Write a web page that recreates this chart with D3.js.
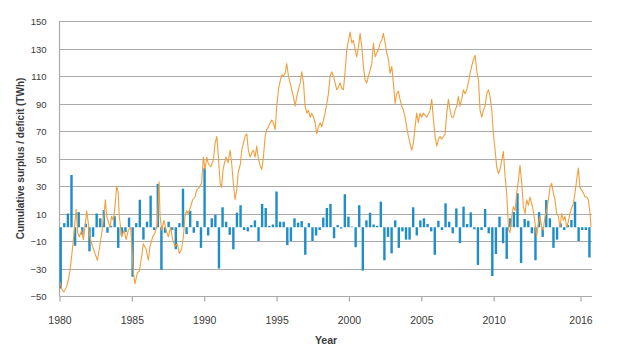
<!DOCTYPE html>
<html>
<head>
<meta charset="utf-8">
<script src="https://cdn.jsdelivr.net/npm/d3@7/dist/d3.min.js"></script>
<style>
  body { margin: 0; background: #fff; }
  svg text { font-family: "Liberation Sans", Arial, sans-serif; fill: #3a3a3a; }
</style>
</head>
<body>
<svg id="chart" width="618" height="362"></svg>
<script>
// quarterly surplus / deficit (TWh), 1980 Q1 onwards
var barValues = [
  -44.5, 3, 10, 38, -13.5, 11, -5.5, 2.5, -17.5, -7,
  10, 6.5, 12.5, -4, 1, 8, -15, -6, -3.5, 7,
  -36, 3, 20, -9, 4, 23, -2, 31.5, -31, -4,
  4, -2, -16, 3, 28, -5, 12, -4, 4.5, -15,
  43, -6, 6.5, 9, -30, 14.5, 4, -5.5, -16, 10.6,
  16, -2, -3, 1.6, 5, -10, 17, 14, 1, 2,
  26, 4, 4, -13, -10, 6.5, 3.3, 4.5, -20, 3,
  -10, -6, -2, 7, 14, 17, -8, 1.6, -1, 24,
  7.7, 0.5, -14.5, 16, -31.5, 5, 10.6, 2, 1, 18.6,
  -24, -7, -19, 5, -15, -3, -9, -9, 14.5, -6,
  5, 6.5, 2.4, -3, -20, 4.7, -2, 17.4, 4, -4.4,
  13.7, -11.6, 15, 2.4, 10.8, -1.5, -27.4, -2, 13.3, -4.4,
  -35.5, -19.5, 7.7, -11.6, -23, 6.5, 11, 24.7, -26, 6,
  4.7, -4.4, -24, 11, -7, 19.8, 6.5, -15, -9, 2.8,
  -2, 1.6, 5.3, 18.6, -10, -2, -2, -22
];

// cumulative surplus / deficit (TWh)
var lineYears = [
  1980.05, 1980.15, 1980.31, 1980.50, 1980.62, 1980.73, 1980.84, 1980.96, 1981.07, 1981.15,
  1981.26, 1981.37, 1981.53, 1981.65, 1981.76, 1981.88, 1981.99, 1982.11, 1982.29, 1982.45,
  1982.62, 1982.75, 1982.92, 1983.07, 1983.17, 1983.26, 1983.49, 1983.60, 1983.72, 1983.83,
  1983.95, 1984.06, 1984.13, 1984.30, 1984.46, 1984.60, 1984.76, 1984.92, 1985.10, 1985.22,
  1985.38, 1985.52, 1985.68, 1985.79, 1985.98, 1986.14, 1986.25, 1986.44, 1986.60, 1986.76,
  1986.88, 1986.95, 1987.06, 1987.22, 1987.36, 1987.52, 1987.68, 1987.82, 1987.98, 1988.14,
  1988.28, 1988.44, 1988.56, 1988.67, 1988.79, 1988.90, 1989.06, 1989.20, 1989.36, 1989.48,
  1989.66, 1989.82, 1989.94, 1990.06, 1990.18, 1990.29, 1990.45, 1990.64, 1990.75, 1990.87,
  1990.98, 1991.10, 1991.20, 1991.30, 1991.50, 1991.65, 1991.79, 1991.90, 1992.01, 1992.13,
  1992.25, 1992.35, 1992.50, 1992.59, 1992.71, 1992.82, 1992.94, 1993.05, 1993.17, 1993.28,
  1993.40, 1993.51, 1993.63, 1993.74, 1993.86, 1993.98, 1994.09, 1994.21, 1994.32, 1994.44,
  1994.55, 1994.67, 1994.78, 1994.90, 1995.01, 1995.13, 1995.24, 1995.36, 1995.47, 1995.59,
  1995.70, 1995.82, 1995.93, 1996.05, 1996.16, 1996.28, 1996.39, 1996.51, 1996.63, 1996.74,
  1996.86, 1996.97, 1997.09, 1997.20, 1997.32, 1997.43, 1997.55, 1997.66, 1997.78, 1997.89,
  1998.01, 1998.12, 1998.24, 1998.35, 1998.47, 1998.58, 1998.70, 1998.81, 1998.93, 1999.04,
  1999.16, 1999.27, 1999.39, 1999.50, 1999.62, 1999.74, 1999.85, 1999.97, 2000.08, 2000.20,
  2000.31, 2000.43, 2000.54, 2000.66, 2000.77, 2000.89, 2001.00, 2001.12, 2001.23, 2001.35,
  2001.46, 2001.58, 2001.69, 2001.81, 2001.92, 2002.04, 2002.15, 2002.27, 2002.38, 2002.50,
  2002.61, 2002.73, 2002.84, 2002.96, 2003.07, 2003.19, 2003.30, 2003.42, 2003.53, 2003.65,
  2003.76, 2003.88, 2003.99, 2004.11, 2004.22, 2004.34, 2004.45, 2004.57, 2004.68, 2004.80,
  2004.91, 2005.03, 2005.14, 2005.38, 2005.61, 2005.72, 2005.84, 2005.95, 2006.07, 2006.18,
  2006.30, 2006.41, 2006.53, 2006.64, 2006.76, 2006.87, 2006.99, 2007.10, 2007.22, 2007.33,
  2007.45, 2007.56, 2007.68, 2007.79, 2007.91, 2008.02, 2008.14, 2008.25, 2008.37, 2008.48,
  2008.60, 2008.72, 2008.83, 2008.95, 2009.06, 2009.18, 2009.29, 2009.41, 2009.52, 2009.64,
  2009.75, 2009.87, 2009.98, 2010.10, 2010.21, 2010.33, 2010.44, 2010.56, 2010.67, 2010.79,
  2010.90, 2010.97, 2011.04, 2011.13, 2011.25, 2011.36, 2011.48, 2011.59, 2011.71, 2011.82,
  2011.94, 2012.05, 2012.17, 2012.28, 2012.40, 2012.51, 2012.63, 2012.74, 2012.86, 2012.97,
  2013.09, 2013.20, 2013.32, 2013.43, 2013.55, 2013.66, 2013.78, 2013.89, 2014.01, 2014.12,
  2014.24, 2014.35, 2014.47, 2014.58, 2014.70, 2014.81, 2014.93, 2015.04, 2015.16, 2015.27,
  2015.39, 2015.50, 2015.62, 2015.73, 2015.85, 2015.96, 2016.08, 2016.20, 2016.31, 2016.43,
  2016.54, 2016.66, 2016.73
];
var lineValues = [
  -40, -45, -47, -43, -38, -31, -21, -9, 4, 13,
  -4, -7, -2, -9, 0, 12, 3, -8, -14, -19,
  -24, -16, -4, 8, 20, 8, 0, 8, 5, 15,
  30, 25, 8, -7, -2, -9, -2, 0, -33, -41,
  -33, -32, -21, -12, -16, -24, -14, -7, -4, 2,
  33, 8, -2, 5, -2, -7, 0, -9, -14, -12,
  -19, -16, -7, 8, 12, 10, 15, 20, 22, 27,
  29, 32, 51, 42, 51, 46, 44, 49, 61, 66,
  51, 32, 29, 42, 51, 47, 56, 46, 32, 20,
  27, 40, 46, 56, 61, 66, 68, 56, 51, 54,
  56, 51, 59, 50, 45, 42, 51, 66, 71, 73,
  76, 78, 76, 71, 88, 100, 106, 111, 110, 112,
  119, 110, 105, 100, 95, 88, 95, 100, 105, 113,
  105, 88, 83, 85, 80, 83, 80, 76, 68, 73,
  76, 73, 78, 83, 90, 97, 110, 113, 110, 105,
  100, 102, 105, 101, 100, 114, 129, 136, 142, 134,
  136, 129, 124, 131, 141, 131, 117, 107, 105, 110,
  114, 119, 134, 124, 127, 129, 134, 136, 141, 134,
  127, 122, 112, 117, 105, 90, 97, 99, 93, 88,
  85, 80, 73, 66, 61, 56, 61, 73, 83, 76,
  83, 80, 83, 80, 85, 93, 78, 66, 59, 64,
  66, 64, 66, 68, 83, 93, 85, 80, 80, 85,
  88, 95, 88, 93, 100, 97, 100, 105, 112, 117,
  122, 125, 114, 107, 85, 80, 85, 88, 97, 100,
  95, 85, 68, 56, 44, 39, 42, 49, 55, 37,
  25, 10, -2, -4, 8, 15, 12, 25, 34, 45,
  32, 15, 10, 20, 16, 22, 17, 12, 3, -7,
  3, 8, 0, -2, 8, 12, 20, 29, 32, 25,
  20, 10, 8, 0, 10, 5, 8, 0, 4, 10,
  14, 17, 25, 34, 43, 29, 27, 25, 22, 22,
  20, 10, 0
];

var xTicks = [1980, 1985, 1990, 1995, 2000, 2005, 2010, 2016];
var yTicks = [-50, -30, -10, 10, 30, 50, 70, 90, 110, 130, 150];

var gridColor = "#aaaaaa";
var barColor = "#1f8dc8";
var lineColor = "#f19f3e";

var svg = d3.select("#chart");

var x = d3.scaleLinear().domain([1980, 2016]).range([59.5, 580.5]);
var y = d3.scaleLinear().domain([-50, 150]).range([296, 21]);
var xEnd = x(2016.8);

// one band per quarter
var barKeys = barValues.map(function(d, i){ return 1980 + i / 4; });
var xb = d3.scaleBand()
  .domain(barKeys)
  .range([x(1980), x(2016.7)])
  .paddingInner(0.33);

// gridlines (the -50 one doubles as the x axis)
svg.append("g")
  .selectAll("line")
  .data(yTicks)
  .join("line")
    .attr("x1", x(1980))
    .attr("x2", xEnd)
    .attr("y1", function(d){ return Math.round(y(d)) + 0.5; })
    .attr("y2", function(d){ return Math.round(y(d)) + 0.5; })
    .attr("stroke", gridColor)
    .attr("stroke-width", 1.2);

svg.append("line")
  .attr("x1", x(1980))
  .attr("x2", x(1980))
  .attr("y1", y(150))
  .attr("y2", y(-50) + 0.5)
  .attr("stroke", gridColor)
  .attr("stroke-width", 1.2);

// y axis labels
var yAxis = d3.axisLeft(y)
  .tickValues(yTicks)
  .tickSize(0)
  .tickPadding(13);
var gy = svg.append("g")
  .attr("transform", "translate(" + x(1980) + ",0.5)")
  .call(yAxis);
gy.select(".domain").remove();
gy.selectAll("text")
  .style("font-size", "9.5px")
  .attr("fill", "#3a3a3a");

// x axis
var xAxis = d3.axisBottom(x)
  .tickValues(xTicks)
  .tickSize(5)
  .tickPadding(15)
  .tickFormat(d3.format("d"));
var gx = svg.append("g")
  .attr("transform", "translate(0," + (Math.round(y(-50)) + 0.5) + ")")
  .call(xAxis);
gx.select(".domain").remove();
gx.selectAll("line")
  .attr("stroke", gridColor)
  .attr("stroke-width", 1.2);
gx.selectAll("text")
  .style("font-size", "10.5px")
  .attr("fill", "#3a3a3a");

// quarterly bars
svg.append("g")
  .selectAll("rect")
  .data(barValues)
  .join("rect")
    .attr("x", function(d, i){ return xb(barKeys[i]); })
    .attr("width", xb.bandwidth())
    .attr("y", function(d){ return y(Math.max(0, d)); })
    .attr("height", function(d){ return Math.abs(y(d) - y(0)); })
    .attr("fill", barColor);

// cumulative line
var line = d3.line()
  .x(function(d){ return x(d); })
  .y(function(d, i){ return y(lineValues[i]); });

svg.append("path")
  .datum(lineYears)
  .attr("d", line)
  .attr("fill", "none")
  .attr("stroke", lineColor)
  .attr("stroke-width", 1.1)
  .attr("stroke-linejoin", "round");

// titles
svg.append("text")
  .attr("transform", "translate(24," + ((y(150) + y(-50)) / 2) + ") rotate(-90)")
  .attr("text-anchor", "middle")
  .style("font-size", "10px")
  .style("font-weight", "bold")
  .attr("fill", "#3a3a3a")
  .text("Cumulative surplus / deficit (TWh)");

svg.append("text")
  .attr("x", 326)
  .attr("y", 344)
  .attr("text-anchor", "middle")
  .style("font-size", "10.5px")
  .style("font-weight", "bold")
  .attr("fill", "#3a3a3a")
  .text("Year");
</script>
</body>
</html>
